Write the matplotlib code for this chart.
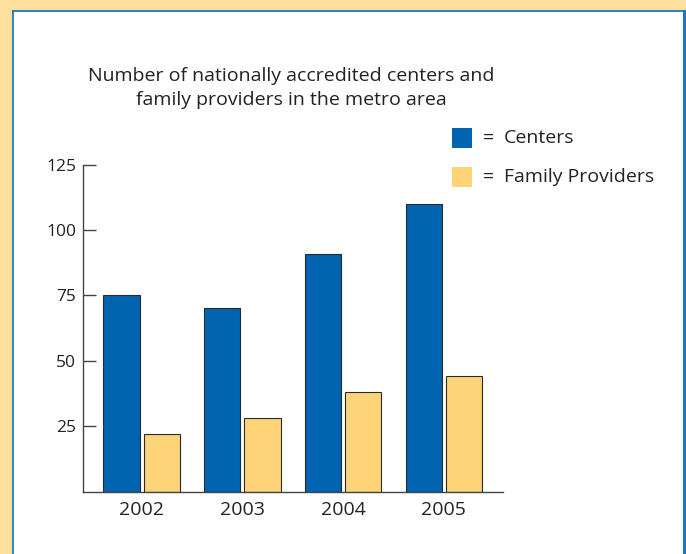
import numpy as np
import matplotlib.pyplot as plt
from matplotlib.patches import Rectangle
from matplotlib.lines import Line2D

# Daten
jahre = ['2002', '2003', '2004', '2005']
zentren = [75, 70, 91, 110]
tagespflege = [22, 28, 38, 44]
serien = ['Centers', 'Family Providers']
y_ticks = [25, 50, 75, 100, 125]

titel = 'Number of nationally accredited centers and\nfamily providers in the metro area'

blau = '#0064B0'
gelb = '#FFD479'
rand = '#1C78C6'
hintergrund = '#FEDF9C'
text_farbe = '#222222'

plt.rcParams['font.family'] = ['Open Sans', 'DejaVu Sans']

W, H = 686, 554
fig = plt.figure(figsize=(W / 100, H / 100), dpi=100)
fig.patch.set_facecolor(hintergrund)

# weisses Feld mit blauem Rahmen
fig.patches.append(Rectangle((13.3 / W, 0), (683.5 - 13.3) / W, 1 - 11 / H,
                             transform=fig.transFigure, facecolor='white',
                             edgecolor='none', zorder=-5))
fig.lines.append(Line2D([13.3 / W, 13.3 / W], [0, 1 - 11 / H], transform=fig.transFigure,
                        color=rand, lw=1.3, zorder=-4))
fig.lines.append(Line2D([13.3 / W, 683.5 / W], [1 - 11 / H, 1 - 11 / H], transform=fig.transFigure,
                        color=rand, lw=1.3, zorder=-4))
fig.lines.append(Line2D([683.5 / W, 683.5 / W], [0, 1 - 11 / H], transform=fig.transFigure,
                        color=rand, lw=2.2, zorder=-4))

ax = fig.add_axes([83.3 / W, 1 - 491.5 / H, (502.7 - 83.3) / W, (491.5 - 164.7) / H])
ax.set_facecolor('none')
ax.set_zorder(2)

x = np.arange(len(jahre))
breite = 0.36
ax.bar(x - 0.2, zentren, breite, color=blau, edgecolor='#2a2a2a', linewidth=0.8, zorder=2)
ax.bar(x + 0.2, tagespflege, breite, color=gelb, edgecolor='#2a2a2a', linewidth=0.8, zorder=2)

ax.set_xlim(-0.58, 3.585)
ax.set_ylim(0, 125)
ax.set_yticks(y_ticks)
ax.set_yticklabels([str(v) for v in y_ticks], fontsize=12.5, color=text_farbe)
ax.set_xticks(x)
ax.set_xticklabels(jahre, fontsize=14, color=text_farbe)
ax.tick_params(axis='y', direction='in', length=9.5, width=1, color='#444444', pad=5)
ax.tick_params(axis='x', length=0, pad=7)

for s in ['top', 'right']:
    ax.spines[s].set_visible(False)
for s in ['left', 'bottom']:
    ax.spines[s].set_color('#444444')
    ax.spines[s].set_linewidth(1)

fig.text(291 / W, 1 - 88 / H, titel, ha='center', va='center', fontsize=14,
         color=text_farbe, linespacing=1.45)

# Legende
for i, (name, farbe) in enumerate(zip(serien, [blau, gelb])):
    y0 = 128 + i * 39
    fig.patches.append(Rectangle((451.7 / W, 1 - (y0 + 19.5) / H), 20.5 / W, 19.5 / H,
                                 transform=fig.transFigure, facecolor=farbe,
                                 edgecolor='none'))
    fig.text(483 / W, 1 - (y0 + 10) / H, '=', ha='left', va='center', fontsize=14,
             color=text_farbe)
    fig.text(504 / W, 1 - (y0 + 10) / H, name, ha='left', va='center', fontsize=14,
             color=text_farbe)

fig.savefig('out.png', dpi=100, facecolor=fig.get_facecolor())
